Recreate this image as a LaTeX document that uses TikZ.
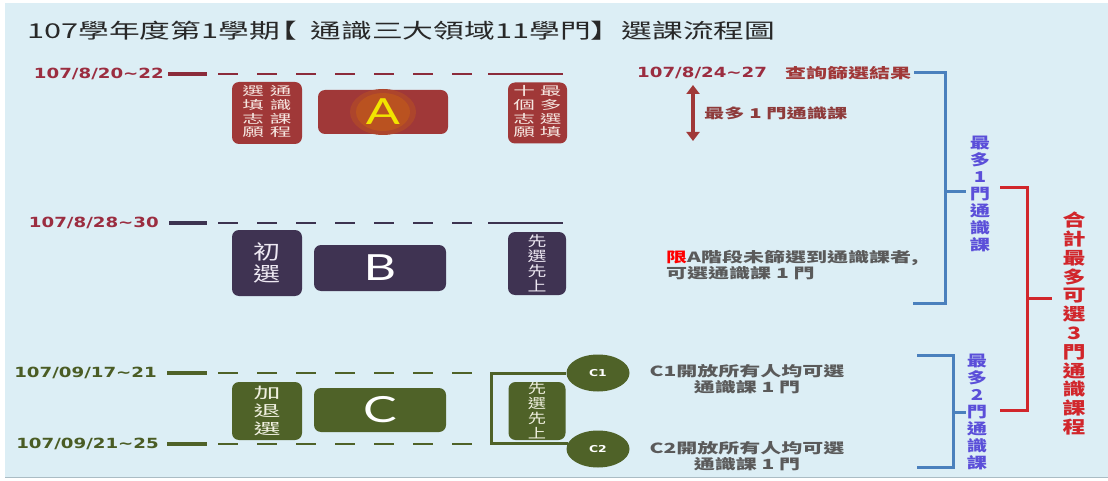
\documentclass[tikz,border=0pt]{standalone}
\usepackage{fontspec}
\usetikzlibrary{arrows.meta,shapes.geometric}
\setmainfont{Noto Sans CJK TC}
\newfontfamily\titlefont[FakeStretch=1.5]{Noto Sans CJK TC}
\newfontfamily\cjk[FakeStretch=1.5]{Noto Sans CJK TC}
\newfontfamily\cjkv[FakeStretch=1.35]{Noto Sans CJK TC}
\newfontfamily\cjkw[FakeStretch=1.8]{Noto Sans CJK TC}
\newfontfamily\datefont[FakeStretch=1.3]{DejaVu Sans}
\newfontfamily\letterfont[FakeStretch=1.4]{Lato}
\definecolor{bg}{RGB}{220,238,245}
\definecolor{frame}{RGB}{170,188,196}
\definecolor{titlec}{RGB}{40,40,40}
\definecolor{cA}{RGB}{160,56,56}
\definecolor{cAl}{RGB}{139,43,58}
\definecolor{cAt}{RGB}{155,45,64}
\definecolor{cB}{RGB}{63,51,82}
\definecolor{cBl}{RGB}{60,51,80}
\definecolor{cC}{RGB}{79,98,40}
\definecolor{cCt}{RGB}{74,92,36}
\definecolor{glow}{RGB}{186,82,32}
\definecolor{yel}{RGB}{242,228,0}
\definecolor{cBlue}{RGB}{74,128,189}
\definecolor{cBlueT}{RGB}{91,79,217}
\definecolor{cRed}{RGB}{209,38,43}
\definecolor{grayt}{RGB}{90,90,90}
\definecolor{maroont}{RGB}{142,59,59}
\definecolor{txtA}{RGB}{245,230,224}
\definecolor{txtB}{RGB}{237,232,242}
\definecolor{txtC}{RGB}{240,240,224}
\begin{document}
\begin{tikzpicture}[x=1pt,y=-1pt,
  abox/.style={fill=cA, rounded corners=7pt, inner sep=0pt},
  bbox/.style={fill=cB, rounded corners=7pt, inner sep=0pt},
  cbox/.style={fill=cC, rounded corners=7pt, inner sep=0pt},
  datelbl/.style={font=\datefont\bfseries\fontsize{14}{16}\selectfont, inner sep=0pt},
  barln/.style={line width=4.5pt},
  dashln/.style={line width=2.6pt, dash pattern=on 20pt off 19pt},
  solidln/.style={line width=2.6pt},
  blueln/.style={draw=cBlue, line width=3pt},
  redln/.style={draw=cRed, line width=3pt},
  bigletter/.style={font=\letterfont\fontsize{36}{40}\selectfont, inner sep=0pt},
  boldtxt/.style={font=\cjk\bfseries\fontsize{14}{16}\selectfont, inner sep=0pt},
  circ/.style={ellipse, fill=cC, minimum width=63pt, minimum height=37pt, inner sep=0pt,
     text=white, font=\datefont\bfseries\fontsize{9.5}{10}\selectfont},
  vblue/.style={align=center, inner sep=0pt, text=cBlueT, font=\cjkv\bfseries\fontsize{15}{17}\selectfont},
]
\useasboundingbox (0,0) rectangle (1108,481);
\fill[white] (0,0) rectangle (1108,481);
\fill[bg] (5,3) rectangle (1108,477);
\draw[frame, line width=1.2pt] (5,477.5) -- (1108,477.5);

% title
\node[anchor=west, inner sep=0pt, text=titlec, font=\titlefont\fontsize{20.5}{24}\selectfont] (title) at (27,31)
  {107學年度第1學期\kern-13pt【\kern13pt 通識三大領域11學門】選課流程圖};

% ---------------- Row A
\node[datelbl, text=cAt, anchor=east] (dA) at (164,74) {107/8/20\textasciitilde 22};
\coordinate (aA1) at (207,74); \coordinate (aA2) at (218,74);
\coordinate (aA3) at (472,74); \coordinate (aA4) at (488,74); \coordinate (aA5) at (563,74);
\draw[barln, cAl] ([xshift=4pt]dA.east) -- (aA1);
\draw[dashln, cAl] (aA2) -- (aA3);
\draw[solidln, cAl] (aA4) -- (aA5);

\node[abox, minimum width=70pt, minimum height=62pt, text=txtA,
      font=\cjkw\fontsize{12}{12.7}\selectfont] (Al) at (267,113)
  {\setlength{\tabcolsep}{0pt}\begin{tabular}{c@{\hspace{6pt}}c}選&通\\填&識\\志&課\\願&程\end{tabular}};
\node[abox, minimum width=130pt, minimum height=44pt] (Ab) at (383,112) {};
\fill[glow!50!cA] (Ab.center) ellipse [x radius=33, y radius=23];
\fill[glow] (Ab.center) ellipse [x radius=27, y radius=19];
\node[bigletter, text=yel] (lA) at (Ab.center) {A};
\node[abox, minimum width=59pt, minimum height=61pt, text=txtA,
      font=\cjkw\fontsize{12}{12.7}\selectfont] (Ar) at (537.5,113)
  {\setlength{\tabcolsep}{0pt}\begin{tabular}{c@{\hspace{5pt}}c}十&最\\個&多\\志&選\\願&填\end{tabular}};

% ---------------- Row B
\node[datelbl, text=cAt, anchor=east] (dB) at (159,223) {107/8/28\textasciitilde 30};
\coordinate (bB1) at (207,223); \coordinate (bB2) at (218,223);
\coordinate (bB3) at (472,223); \coordinate (bB4) at (488,223); \coordinate (bB5) at (563,223);
\draw[barln, cBl] ([xshift=10pt]dB.east) -- (bB1);
\draw[dashln, cBl] (bB2) -- (bB3);
\draw[solidln, cBl] (bB4) -- (bB5);

\node[bbox, minimum width=70pt, minimum height=66pt, text=txtB, align=center,
      font=\cjkv\fontsize{20}{22}\selectfont] (Bl) at (267,263) {初\\選};
\node[bbox, minimum width=132pt, minimum height=46pt, text=white, font=\letterfont\fontsize{36}{40}\selectfont] (Bb) at (380,268) {B};
\node[bbox, minimum width=58pt, minimum height=63pt, text=txtB, align=center,
      font=\cjkv\fontsize{14}{15}\selectfont] (Br) at (537,263.5) {先\\選\\先\\上};

% ---------------- Row C
\node[datelbl, text=cCt, anchor=east] (dC1) at (157,373) {107/09/17\textasciitilde 21};
\node[datelbl, text=cCt, anchor=east] (dC2) at (159,444) {107/09/21\textasciitilde 25};
\coordinate (c11) at (207,373); \coordinate (c12) at (218,373); \coordinate (c13) at (472,373);
\coordinate (c21) at (207,444); \coordinate (c22) at (218,444); \coordinate (c23) at (472,444);
\draw[barln, cC] ([xshift=10pt]dC1.east) -- (c11);
\draw[dashln, cC] (c12) -- (c13);
\draw[barln, cC] ([xshift=8pt]dC2.east) -- (c21);
\draw[dashln, cC] (c22) -- (c23);

\node[cbox, minimum width=70pt, minimum height=58pt, text=txtC, align=center,
      font=\cjkw\fontsize{15}{18}\selectfont] (Cl) at (267,411) {加\\退\\選};
\node[cbox, minimum width=132pt, minimum height=44pt, text=white, font=\letterfont\fontsize{36}{40}\selectfont] (Cb) at (380,410) {C};
\node[cbox, minimum width=57pt, minimum height=58pt, text=txtC, align=center,
      font=\cjkv\fontsize{13.5}{15}\selectfont] (Cr) at (537,411) {先\\選\\先\\上};

\node[circ] (c1) at (598,373) {C1};
\node[circ] (c2) at (598,449) {C2};
\coordinate (brk) at (491,408);
\draw[solidln, cC, line width=3pt] (c1.west) -| (brk) |- (c2.170);

\node[boldtxt, text=grayt, align=center] (t1) at (747,379) {C1開放所有人均可選\\通識課 1 門};
\node[boldtxt, text=grayt, align=center] (t2) at (747,456) {C2開放所有人均可選\\通識課 1 門};

% ---------------- right top
\node[datelbl, text=cAt, anchor=west] (dR) at (637,73) {107/8/24\textasciitilde 27};
\node[boldtxt, text=cA, anchor=west] (q) at (785,73) {查詢篩選結果};
\coordinate (ar1) at (693,85); \coordinate (ar2) at (693,141);
\draw[cA, line width=3.5pt, {Triangle[width=13pt,length=9pt]}-{Triangle[width=13pt,length=9pt]}] (ar1) -- (ar2);
\node[boldtxt, text=maroont, anchor=west, font=\cjk\bfseries\fontsize{13.5}{16}\selectfont] (m1) at (704,113) {最多 1 門通識課};

\node[boldtxt, text=grayt, anchor=west, align=left, font=\cjk\bfseries\fontsize{14}{14.5}\selectfont] (lim) at (666,265)
  {\textcolor{red}{限}A階段未篩選到通識課者,\\可選通識課 1 門};

% blue bracket 1
\coordinate (bb1) at (945,73); \coordinate (bb2) at (945,303); \coordinate (bb3) at (913,303);
\coordinate (bm1) at (945,192); \coordinate (bt1) at (966,192);
\draw[blueln] ([xshift=3pt]q.east) -- (bb1) -- (bb2) -- (bb3);
\draw[blueln] (bm1) -- (bt1);
% blue bracket 2
\coordinate (bc0) at (917,355); \coordinate (bc1) at (953,355); \coordinate (bc2) at (953,467);
\coordinate (bc3) at (917,467); \coordinate (bcm) at (953,412); \coordinate (bct) at (966,412);
\draw[blueln] (bc0) -- (bc1) -- (bc2) -- (bc3);
\draw[blueln] (bcm) -- (bct);
% red bracket
\coordinate (r0) at (1000,188); \coordinate (r1) at (1027,188); \coordinate (r2) at (1027,410);
\coordinate (r3) at (1000,410); \coordinate (rm) at (1027,298); \coordinate (rt) at (1052,298);
\draw[redln] (r0) -- (r1) -- (r2) -- (r3);
\draw[redln] (rm) -- (rt);

\node[vblue] (v1) at (980,194) {最\\多\\1\\門\\通\\識\\課};
\node[vblue] (v2) at (977,412) {最\\多\\2\\門\\通\\識\\課};
\node[align=center, inner sep=0pt, text=cRed, font=\cjkv\bfseries\fontsize{17}{18.8}\selectfont] (vr) at (1074,323.5)
  {合\\計\\最\\多\\可\\選\\3\\門\\通\\識\\課\\程};
\end{tikzpicture}
\end{document}
